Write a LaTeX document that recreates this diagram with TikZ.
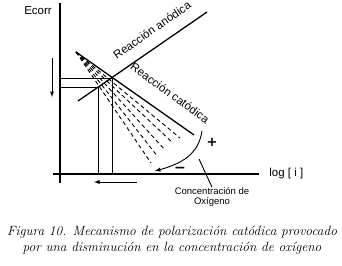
\documentclass[tikz,border=0pt]{standalone}
\usepackage{fontspec}
\setsansfont{Liberation Sans}
\newfontfamily\signfont{DejaVu Sans}
\usepackage{tikz}
\usetikzlibrary{arrows,positioning}

\begin{document}
\begin{tikzpicture}[x=1pt, y=-1pt, thick]
    \tikzstyle{axis} = [draw, line width=1.6pt]
    \tikzstyle{curve} = [draw, line width=1.3pt]
    \tikzstyle{guide} = [draw, line width=0.9pt]
    \tikzstyle{shifted} = [draw, line width=0.9pt, dash pattern=on 4pt off 3pt]
    \tikzstyle{line} = [draw, line width=0.9pt, -latex]
    \tikzstyle{lbl} = [font=\sffamily\fontsize{11.5}{12}\selectfont, inner sep=0pt]
    \tikzstyle{small} = [font=\sffamily\fontsize{9.5}{10}\selectfont, inner sep=0pt, align=center]
    \tikzstyle{sign} = [font=\signfont\bfseries\fontsize{13}{13}\selectfont, inner sep=0pt]

    \useasboundingbox (0,0) rectangle (342,265);

    % axes
    \coordinate (ytop) at (60,3);
    \coordinate (ybot) at (60,183);
    \coordinate (xleft) at (53,174);
    \coordinate (xright) at (259,174);
    \path [axis] (ytop) -- (ybot);
    \path [axis] (xleft) -- (xright);
    \node [lbl] (ecorr) at (38,11) {Ecorr};
    \node [lbl, anchor=west] (logi) at (269,174) {log [ i ]};

    % anodic and cathodic lines
    \coordinate (an0) at (78,101);
    \coordinate (an1) at (207,12);
    \coordinate (ca0) at (76,52);
    \coordinate (ca1) at (194,135);
    \path [curve] (an0) -- (an1);
    \path [curve] (ca0) -- (ca1);
    \node [lbl, rotate=35] (anodic) at (152,30) {Reacción anódica};
    \node [lbl, rotate=-36] (cathodic) at (170,93) {Reacción catódica};

    % corrosion points
    \coordinate (p0) at (112,78);
    \coordinate (p1) at (98,87);
    \path [guide] (p0 -| ytop) -- (p0) -- (p0 |- xleft);
    \path [guide] (p1 -| ytop) -- (p1) -- (p1 |- xleft);

    % cathodic lines with less oxygen
    \foreach \ex/\ey in {180/138, 173/143, 165/150, 158/157, 151/163}
        \path [shifted] (ca0) -- (\ex,\ey);

    % arrows
    \coordinate (down0) at (52,58);
    \coordinate (down1) at (52,97);
    \path [line] (down0) -- (down1);
    \coordinate (left0) at (137,182);
    \coordinate (left1) at (94,182);
    \path [line] (left0) -- (left1);
    \coordinate (bend0) at (202,131);
    \coordinate (bend1) at (155,171);
    \path [line] (bend0) .. controls (199,150) and (188,162) .. (bend1);
    \node [sign] (plus) at (212,142) {+};
    \node [sign, font=\signfont\bfseries\fontsize{14}{14}\selectfont] (minus) at (180,169.5) {−};

    % oxygen label
    \coordinate (ptr) at (199,159);
    \node [small] (oxy) at (212,197) {Concentración de\\Oxígeno};
    \path [guide] (ptr) -- (oxy.north);

    % caption
    \node [font=\itshape\fontsize{13.4}{16}\selectfont, align=center] (caption) at (172,240)
        {Figura 10. Mecanismo de polarización catódica provocado\\por una disminución en la concentración de oxígeno};
\end{tikzpicture}
\end{document}
